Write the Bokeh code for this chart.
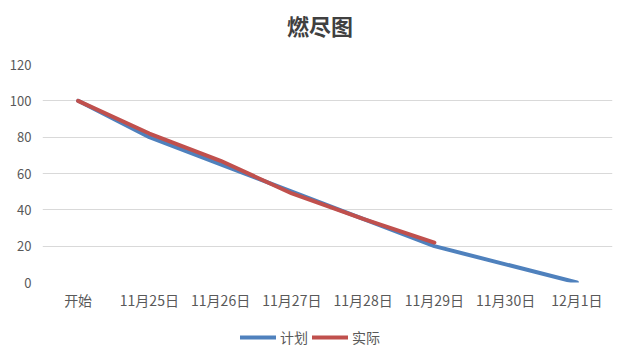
from bokeh.plotting import figure
from bokeh.layouts import column
from bokeh.models import Legend, LegendItem, FixedTicker, Range1d, Div
from bokeh.embed import file_html
from bokeh.resources import INLINE

title_text = "燃尽图"
dates = ["开始", "11月25日", "11月26日", "11月27日", "11月28日", "11月29日", "11月30日", "12月1日"]
plan = [100, 80, 65, 50, 35, 20, 10, 0]
actual = [100, 82, 67, 49, 35, 22]
y_ticks = [0, 20, 40, 60, 80, 100, 120]
series_names = ["计划", "实际"]
series_colors = ["#4F81BD", "#C0504D"]

FONT = "Noto Sans CJK SC"
GREY = "#595959"

title = Div(width=630, height=39,
            text=('<div style="width:630px;text-align:center;padding-top:4px;'
                  'font-family:\'Noto Sans CJK SC\';font-size:22px;font-weight:bold;'
                  'line-height:32px;color:#404040;">' + title_text + '</div>'))

p = figure(width=630, height=270, x_range=dates, y_range=Range1d(0, 120),
           output_backend="svg", toolbar_location=None,
           min_border_left=42, min_border_right=18, min_border_top=15, min_border_bottom=37)
p.outline_line_color = None

p.line(dates, plan, line_color=series_colors[0], line_width=4, line_join="round", line_cap="round")
p.line(dates[:len(actual)], actual, line_color=series_colors[1], line_width=4, line_join="round", line_cap="round")

p.yaxis.ticker = FixedTicker(ticks=y_ticks)
for ax in (p.xaxis[0], p.yaxis[0]):
    ax.axis_line_color = None
    ax.major_tick_line_color = None
    ax.minor_tick_line_color = None
    ax.major_label_text_font = FONT
    ax.major_label_text_color = GREY
p.xaxis.major_label_text_font_size = "14px"
p.yaxis.major_label_text_font_size = "13px"
p.yaxis.major_label_standoff = 5
p.xaxis.major_label_standoff = 1
p.xgrid.grid_line_color = None
p.ygrid.grid_line_color = "#D9D9D9"
p.ygrid.grid_line_width = 1

# legend strip (figure holding only the legend; its sample lines lie outside its ranges)
q = figure(width=630, height=42, x_range=Range1d(0, 1), y_range=Range1d(0, 1),
           x_axis_type=None, y_axis_type=None, output_backend="svg", toolbar_location=None,
           min_border_left=0, min_border_right=0, min_border_top=0, min_border_bottom=0)
q.outline_line_color = None
q.xgrid.grid_line_color = None
q.ygrid.grid_line_color = None
items = []
for name, col in zip(series_names, series_colors):
    r = q.line([5, 6], [5, 6], line_color=col, line_width=4, line_cap="round")
    items.append(LegendItem(label=name, renderers=[r]))
legend = Legend(items=items, orientation="horizontal", location=(198, 14),
                label_text_font=FONT, label_text_font_size="14px", label_text_color=GREY,
                glyph_width=36, glyph_height=14, label_standoff=4, spacing=4,
                border_line_color=None, background_fill_alpha=0, padding=4, margin=0)
q.add_layout(legend, "center")

layout = column(title, p, q, spacing=0)
open("out.html", "w").write(file_html(layout, INLINE))
